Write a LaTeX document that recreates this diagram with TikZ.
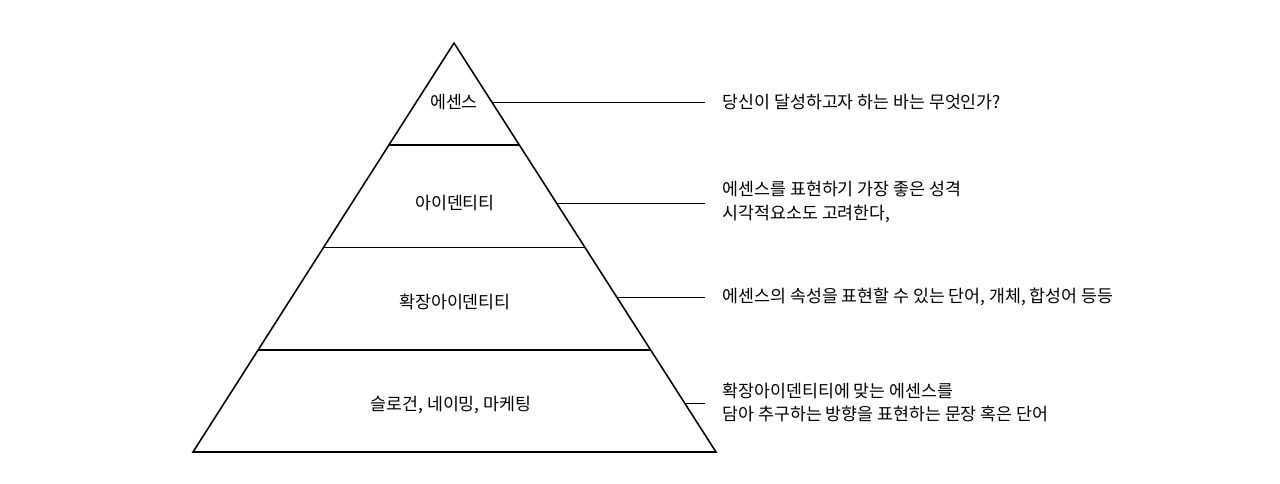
\documentclass[tikz,border=0pt]{standalone}
\usepackage{fontspec}
\setmainfont{Noto Sans CJK KR}
\usetikzlibrary{calc}

\tikzset{
  lvl/.style={font=\fontsize{12.3}{16.4}\selectfont,inner sep=0pt},
  note/.style={font=\fontsize{12.3}{16.4}\selectfont,align=left,anchor=west,inner xsep=12pt,inner ysep=0pt},
  conn/.style={line width=0.7pt}
}

\begin{document}
\begin{tikzpicture}[x=0.025cm,y=-0.025cm,line width=1.1pt]
\useasboundingbox (0,0) rectangle (1280,483);
% pyramid
\coordinate (top) at (454,43);
\coordinate (bl) at (193,452);
\coordinate (br) at (716,452);
\draw (top)--(bl)--(br)--cycle;
\foreach \t in {0.25,0.5,0.75}
  \draw ($(top)!\t!(bl)$) -- ($(top)!\t!(br)$);
% level labels
\node[lvl] (lv0) at (454,102) {에센스};
\node[lvl] (lv1) at (455,203) {아이덴티티};
\node[lvl] (lv2) at (455,302) {확장아이덴티티};
\node[lvl] (lv3) at (451,405) {슬로건, 네이밍, 마케팅};
% notes on the right
\node[note] (nt0) at (705,102) {당신이 달성하고자 하는 바는 무엇인가?};
\node[note] (nt1) at (705,202) {에센스를 표현하기 가장 좋은 성격\\시각적요소도 고려한다,};
\node[note] (nt2) at (705,297) {에센스의 속성을 표현할 수 있는 단어, 개체, 합성어 등등};
\node[note] (nt3) at (705,402) {확장아이덴티티에 맞는 에센스를\\담아 추구하는 방향을 표현하는 문장 혹은 단어};
% connectors from the pyramid edge
\coordinate (ed0) at ($(top)!0.1443!(br)$);
\coordinate (ed1) at ($(top)!0.3912!(br)$);
\coordinate (ed2) at ($(top)!0.6210!(br)$);
\coordinate (ed3) at ($(top)!0.8802!(br)$);
\draw[conn] (ed0) -- (ed0 -| nt0.west);
\draw[conn] (ed1) -- (ed1 -| nt1.west);
\draw[conn] (ed2) -- (ed2 -| nt2.west);
\draw[conn] (ed3) -- (ed3 -| nt3.west);
\end{tikzpicture}
\end{document}
